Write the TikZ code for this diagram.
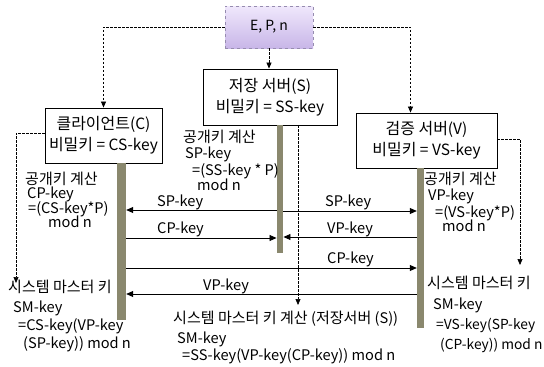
\documentclass[tikz,border=0pt]{standalone}
\usepackage{fontspec}
\setmainfont{Noto Sans CJK KR}
\newfontfamily\krf[Scale=1.03]{Noto Sans CJK KR}
\newcommand\kr[1]{{\krf #1}}
\usetikzlibrary{arrows.meta,calc}
\definecolor{lifec}{RGB}{138,136,110}
\definecolor{epntop}{RGB}{240,232,252}
\definecolor{epnbot}{RGB}{200,182,232}
\definecolor{epnline}{RGB}{150,140,175}
\begin{document}
\begin{tikzpicture}[x=1pt,y=-1pt,
  box/.style={draw=black,line width=0.9pt,fill=white,align=center,inner sep=0pt,font=\fontsize{15.5}{21}\selectfont},
  life/.style={fill=lifec,draw=none,inner sep=0pt},
  msg/.style={line width=0.8pt,-{Triangle[length=7pt,width=6pt]}},
  dsh/.style={line width=0.7pt,dash pattern=on 2.5pt off 1.5pt,-{Triangle[length=6pt,width=5pt]}},
  lbl/.style={anchor=base west,inner sep=0pt,font=\fontsize{14.6}{16}\selectfont},
  lbls/.style={lbl,font=\fontsize{13.8}{16}\selectfont},
]
\useasboundingbox (0,0) rectangle (544,367);

% boxes
\node[box,minimum width=88pt,minimum height=42pt,draw=epnline,dashed,top color=epntop,bottom color=epnbot,font=\fontsize{14}{18}\selectfont] (epn) at (269,27) {E, P, n};
\node[box,minimum width=134pt,minimum height=56pt] (sto) at (270,97) {\kr{저장 서버}(S)\\\kr{비밀키} = SS-key};
\node[box,minimum width=117pt,minimum height=55pt] (cli) at (103.5,135.5) {\kr{클라이언트}(C)\\\kr{비밀키} = CS-key};
\node[box,minimum width=141pt,minimum height=55pt] (ver) at (426.5,140.5) {\kr{검증 서버}(V)\\\kr{비밀키} = VS-key};

% lifelines
\node[life,minimum width=9pt,minimum height=157pt] (cll) at (121.5,241.5) {};
\node[life,minimum width=6.5pt,minimum height=128pt] (stl) at (280,189) {};
\node[life,minimum width=7pt,minimum height=160pt] (vel) at (420.5,248) {};

% distribution of parameters
\draw[dsh] (epn.west) -| (cli.north);
\draw[dsh] (epn.east) -| ([xshift=-16pt]ver.north);
\draw[dsh] (epn.south) -- (epn.south |- sto.north);

% dashed flows to master key
\coordinate (cmk) at (16,283);
\coordinate (smk) at (298,305);
\coordinate (vmk) at (520,265);
\draw[dsh] ([yshift=2.5pt]cli.west) -| (cmk);
\draw[dsh] (sto.south -| smk) -- (smk);
\draw[dsh] ([yshift=1.5pt]ver.east) -| (vmk);

% messages
\draw[msg] (stl.west |- 0,210) -- (cll.east |- 0,210);
\draw[msg] (stl.east |- 0,211) -- (vel.west |- 0,211);
\draw[msg] (cll.east |- 0,238) -- (stl.west |- 0,238);
\draw[msg] (vel.west |- 0,237) -- (stl.east |- 0,237);
\draw[msg] (cll.east |- 0,268) -- (vel.west |- 0,268);
\draw[msg] (vel.west |- 0,294) -- (cll.east |- 0,294);

\node[lbl] (m1) at (157,206) {SP-key};
\node[lbl] (m2) at (325,206) {SP-key};
\node[lbl] (m3) at (157,233) {CP-key};
\node[lbl] (m4) at (327,233) {VP-key};
\node[lbl] (m5) at (327,263) {CP-key};
\node[lbl] (m6) at (203,290) {VP-key};

% client public key
\node[lbl] (c1) at (25,184) {\kr{공개키 계산}};
\node[lbl] (c2) at (27,198) {CP-key};
\node[lbl] (c3) at (28,213) {=(CS-key*P)};
\node[lbl] (c4) at (48,227) {mod n};
% storage public key
\node[lbl] (s1) at (183,142) {\kr{공개키 계산}};
\node[lbl] (s2) at (185,158) {SP-key};
\node[lbl] (s3) at (192,175) {=(SS-key * P)};
\node[lbl] (s4) at (197,190) {mod n};
% verify public key
\node[lbl] (v1) at (424,184) {\kr{공개키 계산}};
\node[lbl] (v2) at (428,200) {VP-key};
\node[lbl] (v3) at (435,217) {=(VS-key*P)};
\node[lbl] (v4) at (442,231) {mod n};
% master keys
\node[lbl] (cm1) at (8,292) {\kr{시스템 마스터 키}};
\node[lbl] (cm2) at (13,312) {SM-key};
\node[lbl] (cm3) at (18,330) {=CS-key(VP-key};
\node[lbl] (cm4) at (23,348) {(SP-key)) mod n};
\node[lbl] (sm1) at (173,323) {\kr{시스템 마스터 키 계산} (\kr{저장서버} (S))};
\node[lbl] (sm2) at (177,343) {SM-key};
\node[lbl] (sm3) at (182,360) {=SS-key(VP-key(CP-key)) mod n};
\node[lbl] (vm1) at (427,288) {\kr{시스템 마스터 키}};
\node[lbl] (vm2) at (433,309) {SM-key};
\node[lbls] (vm3) at (436,329) {=VS-key(SP-key};
\node[lbls] (vm4) at (440,349) {(CP-key)) mod n};
\end{tikzpicture}
\end{document}
